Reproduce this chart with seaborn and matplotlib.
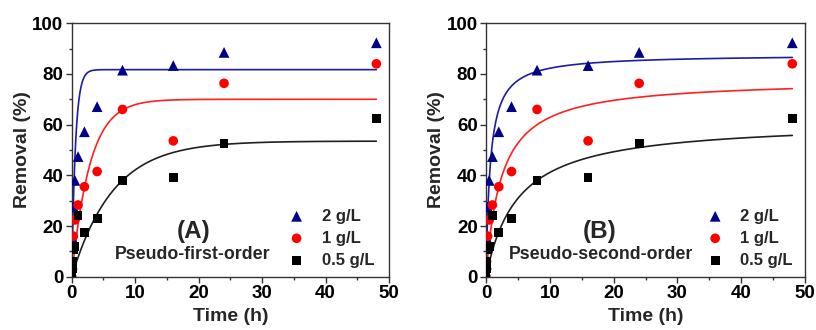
import numpy as np
import pandas as pd
import matplotlib
matplotlib.use("Agg")
import matplotlib.pyplot as plt
import seaborn as sns

# ---- data ----
time_h = [0, 0.083, 0.167, 0.25, 0.5, 1, 2, 4, 8, 16, 24, 48]
removal_2gL = [0, 5, 15, 27.6, 38, 47.4, 57.2, 67.1, 81.5, 83.3, 88.5, 92.3]
removal_1gL = [0, 6, 11, 16, 22.4, 28.3, 35.5, 41.5, 66.0, 53.6, 76.3, 84.0]
removal_05gL = [0, 3, 6, 10.5, 12, 24.0, 17.4, 23.0, 38.0, 39.2, 52.5, 62.5]
doses = ["2 g/L", "1 g/L", "0.5 g/L"]

# fitted model parameters
pfo_qe = [81.7, 70.0, 53.5]
pfo_k = [1.7, 0.35, 0.155]
pso_qe = [87.7, 77.9, 61.5]
pso_a = [1.51, 0.418, 0.202]   # k2*qe

colors = ["#00008B", "#FF0000", "#000000"]
line_colors = ["#1c1ca8", "#FF2020", "#202020"]
markers = ["^", "o", "s"]
marker_sizes = [60, 48, 40]

sns.set_theme(style="ticks")
plt.rcParams["font.family"] = ["Liberation Sans", "DejaVu Sans"]
plt.rcParams["font.weight"] = "bold"

series = [removal_2gL, removal_1gL, removal_05gL]

fig = plt.figure(figsize=(8.16, 3.30), dpi=100)
axA = fig.add_axes([0.0879, 0.1615, 0.3889, 0.768])
axB = fig.add_axes([0.5956, 0.1615, 0.3910, 0.768])

tt = np.linspace(0, 48, 600)
for ax, model, label, title, tx, ptx, legx in [
    (axA, "pfo", "Pseudo-first-order", "(A)", 0.383, 0.136, 0.656),
    (axB, "pso", "Pseudo-second-order", "(B)", 0.357, 0.072, 0.666),
]:
    for i, d in enumerate(doses):
        if model == "pfo":
            yy = pfo_qe[i] * (1 - np.exp(-pfo_k[i] * tt))
        else:
            yy = pso_qe[i] * pso_a[i] * tt / (1 + pso_a[i] * tt)
        sns.lineplot(x=tt, y=yy, ax=ax, color=line_colors[i], linewidth=1.2, legend=False)
    for i, d in enumerate(doses):
        dfi = pd.DataFrame({"time": time_h, "removal": series[i]})
        sns.scatterplot(data=dfi, x="time", y="removal", color=colors[i],
                        marker=markers[i], s=marker_sizes[i], edgecolor="none",
                        ax=ax, zorder=3, label=d)
    ax.set_xlim(0, 50)
    ax.set_ylim(0, 100)
    ax.set_xticks([0, 10, 20, 30, 40, 50])
    ax.set_xticks([5, 15, 25, 35, 45], minor=True)
    ax.set_yticks([0, 20, 40, 60, 80, 100])
    ax.set_yticks([10, 30, 50, 70, 90], minor=True)
    ax.tick_params(axis="both", which="major", direction="out", length=4, width=1,
                   labelsize=13.5, pad=2, colors="#333333", labelcolor="black")
    ax.tick_params(axis="both", which="minor", direction="out", length=2.5, width=1,
                   colors="#333333")
    for lab in ax.get_xticklabels() + ax.get_yticklabels():
        lab.set_fontweight("bold")
    for sp in ax.spines.values():
        sp.set_visible(True)
        sp.set_color("#333333")
        sp.set_linewidth(1.0)
    ax.set_xlabel("Time (h)", fontsize=14, fontweight="bold", labelpad=4)
    ax.set_ylabel("Removal (%)", fontsize=14, fontweight="bold", labelpad=1)
    ax.text(tx, 0.178, title, transform=ax.transAxes, fontsize=17.5, fontweight="bold",
            ha="center", va="center")
    ax.text(ptx, 0.086, label, transform=ax.transAxes, fontsize=12.8, fontweight="bold",
            ha="left", va="center")
    leg = ax.legend(loc="center left", bbox_to_anchor=(legx, 0.152), frameon=False,
                    fontsize=12, handlelength=2.0, handletextpad=0.5, labelspacing=0.42,
                    borderpad=0, borderaxespad=0)
    for t in leg.get_texts():
        t.set_fontweight("bold")

fig.savefig("out.png", dpi=100)
